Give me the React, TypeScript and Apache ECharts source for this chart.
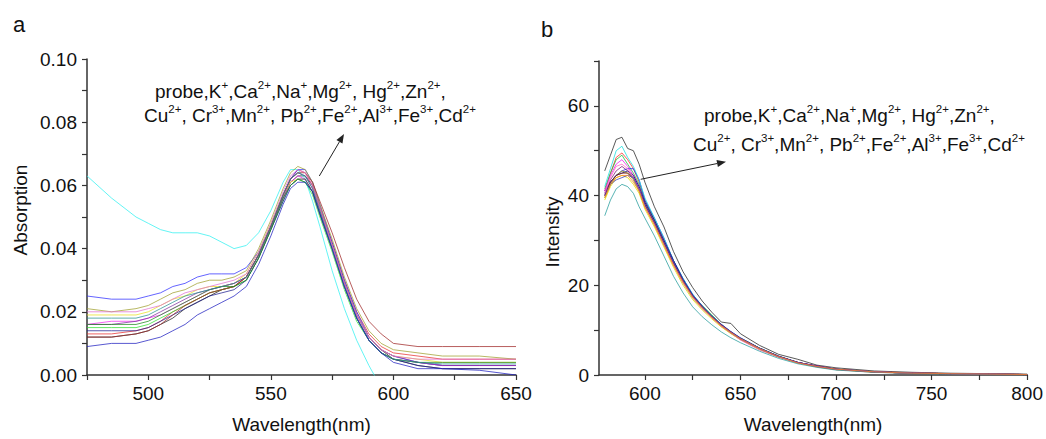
import React, { useEffect, useRef } from "react";
import * as echarts from "echarts";

// ---------- Panel a: absorption spectra ----------
const ionNames = ["probe", "K+", "Ca2+", "Na+", "Mg2+", "Hg2+", "Zn2+", "Cu2+", "Cr3+", "Mn2+", "Pb2+", "Fe2+", "Al3+", "Fe3+", "Cd2+"];

const wavelengthA = [475, 485, 495, 500, 505, 510, 515, 520, 525, 530, 535, 540, 545, 550, 555, 558, 561, 564, 567, 570, 575, 580, 585, 590, 595, 600, 610, 620, 635, 650];

const absProbe = [0.012, 0.012, 0.013, 0.014, 0.016, 0.018, 0.021, 0.023, 0.025, 0.027, 0.028, 0.031, 0.038, 0.047, 0.056, 0.061, 0.063, 0.063, 0.060, 0.053, 0.041, 0.029, 0.019, 0.012, 0.008, 0.005, 0.003, 0.002, 0.002, 0.002];
const absK = [0.013, 0.013, 0.014, 0.015, 0.017, 0.020, 0.022, 0.024, 0.026, 0.027, 0.028, 0.031, 0.038, 0.047, 0.057, 0.062, 0.065, 0.064, 0.060, 0.053, 0.042, 0.030, 0.020, 0.013, 0.009, 0.007, 0.006, 0.005, 0.005, 0.005];
const absCa = [0.015, 0.015, 0.015, 0.016, 0.018, 0.020, 0.022, 0.024, 0.026, 0.027, 0.028, 0.030, 0.037, 0.046, 0.055, 0.060, 0.062, 0.061, 0.057, 0.050, 0.039, 0.027, 0.017, 0.011, 0.007, 0.005, 0.004, 0.003, 0.003, 0.003];
const absNa = [0.025, 0.024, 0.024, 0.025, 0.026, 0.028, 0.029, 0.031, 0.032, 0.032, 0.032, 0.034, 0.039, 0.047, 0.057, 0.062, 0.065, 0.065, 0.061, 0.054, 0.042, 0.030, 0.020, 0.012, 0.008, 0.006, 0.004, 0.003, 0.003, 0.003];
const absMg = [0.063, 0.056, 0.050, 0.048, 0.046, 0.045, 0.045, 0.045, 0.044, 0.042, 0.040, 0.041, 0.045, 0.052, 0.061, 0.065, 0.065, 0.062, 0.055, 0.047, 0.033, 0.021, 0.011, 0.003, -0.004, null, null, null, null, null];
const absHg = [0.016, 0.017, 0.017, 0.018, 0.019, 0.021, 0.023, 0.025, 0.027, 0.028, 0.029, 0.031, 0.038, 0.047, 0.056, 0.061, 0.063, 0.062, 0.058, 0.051, 0.040, 0.028, 0.018, 0.011, 0.007, 0.005, 0.004, 0.003, 0.003, 0.003];
const absZn = [0.019, 0.019, 0.019, 0.020, 0.022, 0.024, 0.025, 0.027, 0.028, 0.028, 0.029, 0.032, 0.039, 0.048, 0.057, 0.061, 0.062, 0.062, 0.058, 0.052, 0.041, 0.029, 0.019, 0.012, 0.008, 0.006, 0.005, 0.004, 0.004, 0.004];
const absCu = [0.021, 0.020, 0.021, 0.022, 0.024, 0.026, 0.027, 0.029, 0.030, 0.030, 0.031, 0.033, 0.040, 0.049, 0.059, 0.064, 0.066, 0.065, 0.061, 0.054, 0.043, 0.031, 0.021, 0.014, 0.010, 0.008, 0.007, 0.006, 0.006, 0.005];
const absCr = [0.014, 0.014, 0.014, 0.015, 0.017, 0.019, 0.021, 0.023, 0.025, 0.026, 0.027, 0.030, 0.037, 0.046, 0.055, 0.060, 0.062, 0.062, 0.058, 0.051, 0.040, 0.028, 0.018, 0.011, 0.007, 0.005, 0.003, 0.002, 0.002, 0.002];
const absMn = [0.016, 0.016, 0.017, 0.018, 0.020, 0.022, 0.024, 0.026, 0.027, 0.028, 0.029, 0.031, 0.038, 0.047, 0.057, 0.062, 0.064, 0.063, 0.059, 0.052, 0.041, 0.029, 0.019, 0.012, 0.008, 0.006, 0.004, 0.003, 0.003, 0.003];
const absPb = [0.012, 0.012, 0.013, 0.014, 0.016, 0.019, 0.022, 0.024, 0.026, 0.027, 0.028, 0.031, 0.038, 0.047, 0.057, 0.062, 0.064, 0.064, 0.061, 0.055, 0.045, 0.034, 0.024, 0.017, 0.013, 0.010, 0.009, 0.009, 0.009, 0.009];
const absFe2 = [0.016, 0.016, 0.016, 0.017, 0.019, 0.021, 0.023, 0.025, 0.027, 0.028, 0.028, 0.030, 0.037, 0.046, 0.056, 0.060, 0.062, 0.061, 0.058, 0.051, 0.040, 0.028, 0.018, 0.011, 0.007, 0.005, 0.004, 0.004, 0.004, 0.004];
const absAl = [0.018, 0.018, 0.018, 0.019, 0.021, 0.023, 0.025, 0.026, 0.027, 0.028, 0.029, 0.031, 0.038, 0.047, 0.057, 0.062, 0.064, 0.063, 0.059, 0.052, 0.040, 0.028, 0.018, 0.011, 0.007, 0.005, 0.004, 0.0035, 0.0035, 0.0035];
const absFe3 = [0.009, 0.010, 0.010, 0.011, 0.012, 0.014, 0.016, 0.019, 0.021, 0.023, 0.025, 0.028, 0.035, 0.044, 0.054, 0.059, 0.061, 0.061, 0.058, 0.051, 0.040, 0.028, 0.018, 0.011, 0.007, 0.004, 0.002, 0.002, 0.0015, 0.000];
const absCd = [0.020, 0.020, 0.020, 0.021, 0.022, 0.024, 0.026, 0.027, 0.028, 0.029, 0.030, 0.032, 0.039, 0.048, 0.058, 0.063, 0.065, 0.064, 0.060, 0.053, 0.041, 0.029, 0.019, 0.012, 0.008, 0.006, 0.005, 0.005, 0.005, 0.005];

const absorptionSeries = [absProbe, absK, absCa, absNa, absMg, absHg, absZn, absCu, absCr, absMn, absPb, absFe2, absAl, absFe3, absCd];

// ---------- Panel b: fluorescence spectra ----------
const wavelengthB = [579, 582, 585, 588, 591, 594, 597, 600, 605, 610, 615, 620, 625, 630, 635, 640, 645, 650, 660, 670, 680, 690, 700, 720, 740, 760, 780, 800];

const flProbe = [45.5, 49, 52.5, 53, 50.5, 50, 47, 43, 37.5, 33, 27.5, 23, 19.5, 16.5, 14, 11.8, 11.5, 9.2, 6.6, 4.6, 3.5, 2.2, 1.6, 0.9, 0.6, 0.4, 0.3, 0.2];
const flK = [41, 45, 48.5, 49.5, 48, 46, 43, 39, 34.5, 30, 25.5, 21.3, 17.8, 15.1, 13, 11.1, 9.6, 8.1, 5.9, 4.1, 2.8, 2, 1.3, 0.7, 0.5, 0.3, 0.3, 0.1];
const flCa = [41.5, 45, 48, 49, 47, 45, 42.5, 38.5, 34.5, 29.5, 25, 21, 17.7, 15.5, 13.4, 11.3, 9.6, 8.2, 6, 4.2, 2.8, 1.9, 1.3, 0.7, 0.4, 0.3, 0.2, 0.1];
const flNa = [41, 43, 44.5, 45.5, 46, 46, 43.5, 39, 35, 30.5, 25.5, 21.5, 18, 15.4, 13.2, 11.3, 9.7, 8.3, 6, 4.2, 2.8, 2, 1.3, 0.7, 0.4, 0.3, 0.2, 0.1];
const flMg = [42, 46, 50, 51, 48.5, 46.5, 43.5, 39.5, 35, 30.5, 25.5, 21.5, 18, 15.3, 13.2, 11.2, 9.6, 8.2, 6, 4.1, 2.7, 1.9, 1.3, 0.7, 0.4, 0.3, 0.2, 0.1];
const flHg = [41, 44.5, 47, 48, 46.5, 44.5, 42, 38, 34, 29.5, 25, 21, 17.5, 15, 12.8, 10.8, 9.3, 7.8, 5.6, 4, 2.7, 1.8, 1.2, 0.6, 0.4, 0.3, 0.2, 0.1];
const flZn = [39, 42, 44, 44.5, 44, 42.5, 40.5, 37, 33, 28.5, 24, 20, 16.8, 14.5, 12.5, 10.7, 9.2, 7.9, 5.7, 4, 2.7, 1.8, 1.2, 0.6, 0.4, 0.3, 0.2, 0.1];
const flCu = [39.5, 42.5, 44.5, 45.5, 45, 43.5, 41, 37.5, 33.5, 29, 24.5, 20.5, 17.2, 14.8, 12.8, 11, 9.4, 8, 5.8, 4, 2.7, 1.9, 1.2, 0.7, 0.4, 0.3, 0.2, 0.1];
const flCr = [40.5, 43, 44.5, 45, 45.5, 44.5, 42, 38.5, 34.5, 30, 25.5, 21.3, 17.8, 15.3, 13.1, 11.2, 9.6, 8.2, 6, 4.2, 2.8, 2, 1.3, 0.7, 0.4, 0.3, 0.2, 0.1];
const flMn = [40, 43.5, 45.5, 46.5, 45.5, 44, 41.5, 38, 34, 29.5, 25, 21, 17.7, 15.2, 13, 11.2, 9.6, 8.1, 5.9, 4.1, 2.8, 2, 1.3, 0.7, 0.4, 0.3, 0.2, 0.1];
const flPb = [40, 43, 44.5, 45, 45, 44, 41.5, 38, 34, 29.5, 25, 21, 17.6, 15.1, 13, 11.1, 9.5, 8.1, 5.9, 4.1, 2.8, 1.9, 1.3, 0.7, 0.4, 0.3, 0.2, 0.1];
const flFe2 = [40.5, 44, 46.5, 47, 46, 44, 41.5, 37.5, 33.5, 29, 24.5, 20.5, 17.3, 14.8, 12.8, 11, 9.4, 8, 5.8, 4, 2.7, 1.9, 1.2, 0.7, 0.4, 0.3, 0.2, 0.1];
const flAl = [35.5, 39, 41.5, 42.5, 42, 40.5, 37.5, 35, 31, 26.5, 22, 18.3, 15.2, 13, 11.2, 9.6, 8.3, 7.2, 5.3, 3.7, 2.5, 1.7, 1.1, 0.6, 0.35, 0.25, 0.15, 0.1];
const flFe3 = [40, 42.5, 43.5, 44, 44.5, 44, 41.5, 38, 34, 29.5, 25, 21, 17.6, 15.1, 13, 11.1, 9.5, 8.1, 5.9, 4.1, 2.8, 1.9, 1.3, 0.7, 0.4, 0.3, 0.2, 0.1];
const flCd = [39.5, 42.5, 44, 44.5, 44.5, 43, 41, 37.5, 33.5, 29, 24.5, 20.7, 17.4, 15, 12.9, 11, 9.5, 8.1, 5.9, 4.1, 2.7, 1.9, 1.3, 0.7, 0.4, 0.3, 0.2, 0.1];

const fluorescenceSeries = [flProbe, flK, flCa, flNa, flMg, flHg, flZn, flCu, flCr, flMn, flPb, flFe2, flAl, flFe3, flCd];

// tick labels
const absTickLabels = ["0.00", "0.02", "0.04", "0.06", "0.08", "0.10"];
const wlTickLabelsA = [500, 550, 600, 650];
const wlTickLabelsB = [600, 650, 700, 750, 800];
const wlTicksB = [600, 625, 650, 675, 700, 725, 750, 775, 800];
const intTickLabels = [0, 20, 40, 60];

// styles (kept separate from data)
const colorsA = ["#202020", "#e83030", "#30e030", "#3030ff", "#30f0f0", "#f030f0", "#e8e020", "#a0a030", "#202090", "#8030a0", "#a02828", "#208a20", "#2a9090", "#2020c0", "#e070d0"];
const colorsB = ["#303030", "#ff3030", "#20c040", "#2020f0", "#20e0e0", "#f020f0", "#e0e000", "#909000", "#101080", "#802080", "#802020", "#ff70c0", "#30a0a0", "#4040c0", "#ff8020"];

const FONT = "'Liberation Sans', Arial, Helvetica, sans-serif";
const annotationLine1 = "probe,K{s|+},Ca{s|2+},Na{s|+},Mg{s|2+}, Hg{s|2+},Zn{s|2+},";
const annotationLine2 = "Cu{s|2+}, Cr{s|3+},Mn{s|2+}, Pb{s|2+},Fe{s|2+},Al{s|3+},Fe{s|3+},Cd{s|2+}";

function arrow(tail: number[], tip: number[]) {
  const dx = tip[0] - tail[0];
  const dy = tip[1] - tail[1];
  const len = Math.sqrt(dx * dx + dy * dy);
  const ux = dx / len, uy = dy / len;
  const hl = 9, hw = 3.5;
  const bx = tip[0] - ux * hl, by = tip[1] - uy * hl;
  const px = -uy, py = ux;
  return [
    { type: "line", shape: { x1: tail[0], y1: tail[1], x2: bx, y2: by }, style: { stroke: "#222", lineWidth: 1 }, silent: true },
    {
      type: "polygon",
      shape: { points: [[tip[0], tip[1]], [bx + px * hw, by + py * hw], [bx - px * hw, by - py * hw]] },
      style: { fill: "#222" },
      silent: true,
    },
  ];
}

function annText(x: number, y: number, text: string) {
  return {
    type: "text",
    x,
    y,
    silent: true,
    style: {
      text,
      fontSize: 19,
      fontFamily: FONT,
      fill: "#111",
      align: "left",
      verticalAlign: "top",
      lineHeight: 24,
      rich: { s: { fontSize: 11.5, fontFamily: FONT, fill: "#111", padding: [0, 0, 12, 0] } },
    },
  };
}

function axisTitle(x: number, y: number, text: string) {
  return {
    type: "text",
    x,
    y,
    rotation: Math.PI / 2,
    silent: true,
    style: { text, fontSize: 19, fontFamily: FONT, fill: "#111", align: "center", verticalAlign: "middle" },
  };
}

const axisCommon = {
  axisLine: { show: true, lineStyle: { color: "#333", width: 1.5 } },
  axisTick: { show: true, inside: false, length: 5, lineStyle: { color: "#333", width: 1.2 } },
  splitLine: { show: false },
};
const labelStyle = { fontSize: 19, fontFamily: FONT, color: "#111" };
const nameStyle = { fontSize: 19, fontFamily: FONT, color: "#111" };

export default function App() {
  const ref = useRef<HTMLDivElement>(null);
  useEffect(() => {
    if (!ref.current) return;
    const chart = echarts.init(ref.current, undefined, { renderer: "svg" });
    const series: any[] = [];
    absorptionSeries.forEach((vals, i) => {
      series.push({
        type: "line",
        name: ionNames[i] + " (abs)",
        xAxisIndex: 0,
        yAxisIndex: 0,
        showSymbol: false,
        silent: true,
        data: wavelengthA.map((w, k) => [w, vals[k]]),
        lineStyle: { width: 1, color: colorsA[i], opacity: 0.75 },
      });
    });
    fluorescenceSeries.forEach((vals, i) => {
      series.push({
        type: "line",
        name: ionNames[i] + " (fl)",
        xAxisIndex: 1,
        yAxisIndex: 1,
        showSymbol: false,
        silent: true,
        data: wavelengthB.map((w, k) => [w, vals[k]]),
        lineStyle: { width: 1, color: colorsB[i], opacity: 0.8 },
      });
    });

    chart.setOption({
      animation: false,
      backgroundColor: "#fff",
      grid: [
        { left: 87, top: 59, width: 429, height: 320 },
        { left: 599, top: 61, width: 430, height: 318 },
      ],
      xAxis: [
        {
          gridIndex: 0,
          type: "value",
          min: 475,
          max: 650,
          interval: 25,
          ...axisCommon,
          axisLabel: {
            ...labelStyle,
            margin: 9,
            formatter: (v: number) => (wlTickLabelsA.indexOf(v) >= 0 ? String(v) : ""),
          },
          name: "Wavelength(nm)",
          nameLocation: "middle",
          nameGap: 40,
          nameTextStyle: nameStyle,
        },
        {
          gridIndex: 1,
          type: "value",
          min: 576,
          max: 800,
          ...axisCommon,
          axisTick: { ...axisCommon.axisTick, customValues: wlTicksB },
          axisLabel: { ...labelStyle, margin: 9, customValues: wlTickLabelsB },
          name: "Wavelength(nm)",
          nameLocation: "middle",
          nameGap: 40,
          nameTextStyle: nameStyle,
        },
      ],
      yAxis: [
        {
          gridIndex: 0,
          type: "value",
          min: 0,
          max: 0.1,
          interval: 0.01,
          ...axisCommon,
          axisLabel: {
            ...labelStyle,
            margin: 10,
            formatter: (v: number) => {
              const k = Math.round(v * 100);
              return k % 2 === 0 ? absTickLabels[k / 2] : "";
            },
          },
        },
        {
          gridIndex: 1,
          type: "value",
          min: 0,
          max: 70,
          interval: 10,
          ...axisCommon,
          axisLabel: {
            ...labelStyle,
            margin: 10,
            formatter: (v: number) => (intTickLabels.indexOf(v) >= 0 ? String(v) : ""),
          },
        },
      ],
      graphic: [
        { type: "text", x: 13, y: 13, silent: true, style: { text: "a", fontSize: 22, fontFamily: FONT, fill: "#111" } },
        { type: "text", x: 541, y: 18, silent: true, style: { text: "b", fontSize: 22, fontFamily: FONT, fill: "#111" } },
        axisTitle(20, 210, "Absorption"),
        axisTitle(552, 232, "Intensity"),
        annText(155, 79, annotationLine1),
        annText(144, 103, annotationLine2),
        annText(704, 103, annotationLine1),
        annText(693, 132, annotationLine2),
        ...arrow([319.3, 176], [344, 134]),
        ...arrow([640.7, 179.3], [726, 161.7]),
      ],
      series,
    });
    return () => chart.dispose();
  }, []);
  return <div ref={ref} style={{ position: "absolute", left: 0, top: 0, width: 1046, height: 439 }} />;
}
